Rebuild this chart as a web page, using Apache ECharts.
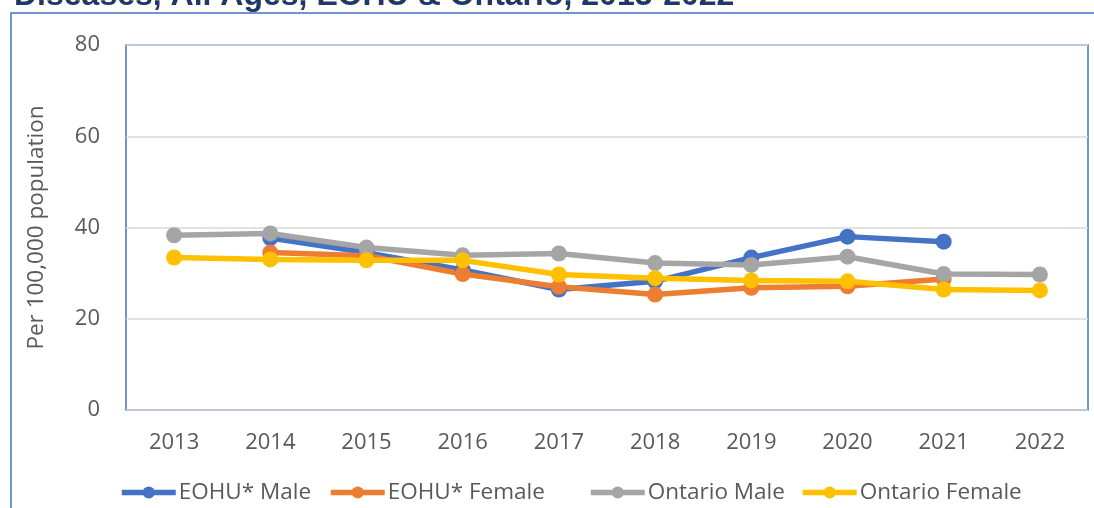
<!DOCTYPE html>
<html>
<head>
<meta charset="utf-8">
<script src="https://cdn.jsdelivr.net/npm/echarts@6/dist/echarts.min.js"></script>
<style>
  html, body { margin: 0; padding: 0; background: #fff; }
  #chart { width: 1094px; height: 508px; }
</style>
</head>
<body>
<div id="chart"></div>
<script>
const years = ['2013', '2014', '2015', '2016', '2017', '2018', '2019', '2020', '2021', '2022']
const eohuMale = [null, 37.7, 34.5, 30.7, 26.4, 28.2, 33.4, 38.0, 36.9, null]
const eohuFemale = [null, 34.5, 33.8, 29.8, 27.0, 25.3, 26.8, 27.1, 28.7, null]
const ontarioMale = [38.3, 38.7, 35.6, 33.9, 34.3, 32.2, 31.8, 33.6, 29.8, 29.7]
const ontarioFemale = [33.4, 33.0, 32.8, 32.8, 29.7, 28.9, 28.4, 28.2, 26.4, 26.2]
const seriesNames = ['EOHU* Male', 'EOHU* Female', 'Ontario Male', 'Ontario Female']
const yTicks = [0, 20, 40, 60, 80]

const font = '"Open Sans", "Noto Sans", sans-serif'
const chart = echarts.init(document.getElementById('chart'))

const makeSeries = (name, data, color) => ({
  name,
  type: 'line',
  data,
  symbol: 'circle',
  symbolSize: 16,
  lineStyle: { width: 5.5, color },
  itemStyle: { color },
  animation: false
})

// one legend per entry so the spacing follows the original
const legendLeft = [119, 328, 588, 800]
const legends = seriesNames.map((name, i) => ({
  left: legendLeft[i],
  top: 481,
  padding: 0,
  itemWidth: 54,
  itemHeight: 15,
  lineStyle: { width: 5.5 },
  textStyle: { fontFamily: font, fontSize: 22.5, color: '#595959', padding: [0, 0, 0, -2] },
  data: [name]
}))

chart.setOption({
  title: {
    text: 'Diseases, All Ages, EOHU & Ontario, 2013-2022',
    left: 9,
    top: -25,
    textStyle: {
      fontFamily: '"Liberation Sans", Arial, sans-serif',
      fontWeight: 'bold',
      fontSize: 32,
      color: '#1F3864'
    }
  },
  graphic: [
    {
      type: 'rect',
      shape: { x: 11, y: 13, width: 1100, height: 520 },
      style: { fill: 'none', stroke: '#4472C4', lineWidth: 1.5 },
      silent: true
    }
  ],
  grid: {
    left: 126,
    right: 6,
    top: 45,
    bottom: 98,
    show: true,
    borderColor: '#4472C4',
    borderWidth: 1.5
  },
  legend: legends,
  xAxis: {
    type: 'category',
    data: years,
    boundaryGap: true,
    axisLine: { show: false },
    axisTick: { show: false },
    axisLabel: { fontFamily: font, fontSize: 22, color: '#595959', margin: 22 }
  },
  yAxis: {
    type: 'value',
    min: yTicks[0],
    max: yTicks[yTicks.length - 1],
    interval: 20,
    name: 'Per 100,000 population',
    nameLocation: 'middle',
    nameGap: 78,
    nameTextStyle: { fontFamily: font, fontSize: 22.5, color: '#595959' },
    axisLine: { show: false },
    axisTick: { show: false },
    axisLabel: { fontFamily: font, fontSize: 22, color: '#595959', margin: 26 },
    splitLine: { lineStyle: { color: '#D9D9D9', width: 1.5 } }
  },
  series: [
    makeSeries(seriesNames[0], eohuMale, '#4472C4'),
    makeSeries(seriesNames[1], eohuFemale, '#ED7D31'),
    makeSeries(seriesNames[2], ontarioMale, '#A5A5A5'),
    makeSeries(seriesNames[3], ontarioFemale, '#FFC000')
  ]
})
</script>
</body>
</html>
